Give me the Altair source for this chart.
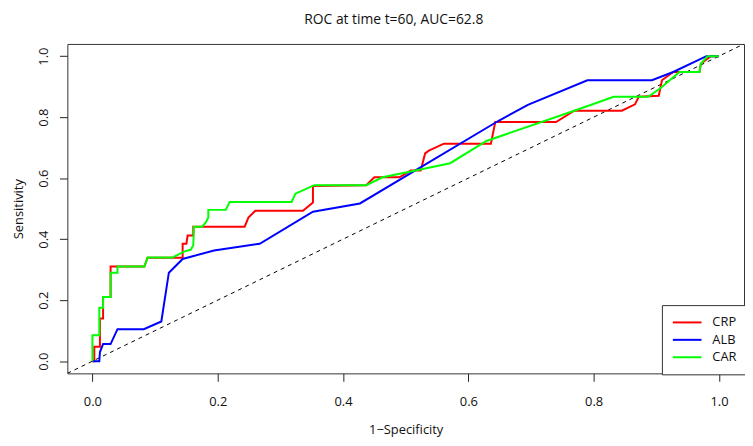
import altair as alt
import pandas as pd

crp_x = [0, 0.003, 0.003, 0.012, 0.012, 0.017, 0.017, 0.029, 0.029, 0.04, 0.083, 0.088,
         0.144, 0.144, 0.150, 0.152, 0.161, 0.161, 0.243, 0.249, 0.260, 0.336, 0.352, 0.352,
         0.437, 0.450, 0.490, 0.508, 0.524, 0.531, 0.537, 0.561, 0.636, 0.643, 0.740, 0.769,
         0.845, 0.866, 0.872, 0.904, 0.909, 0.927, 0.969, 0.971, 0.987, 1.0]
crp_y = [0, 0, 0.047, 0.047, 0.14, 0.14, 0.21, 0.21, 0.31, 0.31, 0.31, 0.339,
         0.339, 0.385, 0.385, 0.412, 0.412, 0.441, 0.441, 0.471, 0.493, 0.493, 0.52, 0.574,
         0.577, 0.603, 0.603, 0.625, 0.625, 0.681, 0.69, 0.713, 0.713, 0.784, 0.784, 0.821,
         0.821, 0.842, 0.867, 0.87, 0.921, 0.948, 0.948, 0.975, 1.0, 1.0]

alb_x = [0, 0.011, 0.012, 0.017, 0.029, 0.04, 0.082, 0.11, 0.122, 0.144, 0.194, 0.267,
         0.352, 0.427, 0.649, 0.695, 0.79, 0.893, 0.927, 0.98, 1.0]
alb_y = [0, 0, 0.03, 0.056, 0.056, 0.105, 0.105, 0.13, 0.29, 0.335, 0.363, 0.385,
         0.49, 0.517, 0.789, 0.84, 0.921, 0.921, 0.948, 1.0, 1.0]

car_x = [0, 0, 0.011, 0.011, 0.017, 0.017, 0.029, 0.029, 0.04, 0.04, 0.083, 0.088,
         0.128, 0.147, 0.157, 0.161, 0.162, 0.175, 0.181, 0.185, 0.185, 0.213, 0.219,
         0.318, 0.324, 0.354, 0.437, 0.463, 0.508, 0.571, 0.629, 0.769, 0.832, 0.887,
         0.906, 0.937, 0.969, 0.971, 0.982, 1.0]
car_y = [0, 0.085, 0.085, 0.175, 0.175, 0.21, 0.21, 0.29, 0.29, 0.31, 0.31, 0.34,
         0.34, 0.36, 0.365, 0.38, 0.441, 0.441, 0.455, 0.471, 0.496, 0.496, 0.522,
         0.522, 0.549, 0.577, 0.577, 0.603, 0.622, 0.649, 0.722, 0.821, 0.867, 0.867,
         0.894, 0.948, 0.948, 0.975, 1.0, 1.0]

series = ["CRP", "ALB", "CAR"]
colors = ["#FF0000", "#0000FF", "#00FF00"]
diag = [-0.04, 1.04]
ticks = [0, 0.2, 0.4, 0.6, 0.8, 1.0]

rows = []
for name, xs, ys in [("CRP", crp_x, crp_y), ("ALB", alb_x, alb_y), ("CAR", car_x, car_y)]:
    for i, (a, b) in enumerate(zip(xs, ys)):
        rows.append({"fpr": a, "tpr": b, "marker": name, "idx": i})
df = pd.DataFrame(rows)
ddf = pd.DataFrame({"fpr": diag, "tpr": diag})

FONT = "Open Sans"
xscale = alt.Scale(domain=[-0.04, 1.04], nice=False, zero=False)
yscale = alt.Scale(domain=[-0.04, 1.04], nice=False, zero=False)

xaxis = alt.Axis(values=ticks, format=".1f", title="1\u2212Specificity", grid=False,
                 domain=False, tickSize=8, tickColor="#222", labelFontSize=13,
                 labelPadding=14, titleFontSize=13, titleFontWeight="normal",
                 titlePadding=16, labelColor="#111", titleColor="#111")
yaxis = alt.Axis(values=ticks, format=".1f", title="Sensitivity", grid=False,
                 domain=False, tickSize=8, tickColor="#222", labelFontSize=13,
                 labelAngle=270, labelAlign="center", labelBaseline="bottom",
                 labelPadding=9, titleFontSize=13, titleFontWeight="normal",
                 titlePadding=12, labelColor="#111", titleColor="#111")

diag_layer = alt.Chart(ddf).mark_line(
    color="black", strokeWidth=1, strokeDash=[4, 4], clip=True
).encode(x=alt.X("fpr:Q", scale=xscale, axis=xaxis),
         y=alt.Y("tpr:Q", scale=yscale, axis=yaxis))

curves = alt.Chart(df).mark_line(strokeWidth=2, clip=True).encode(
    x=alt.X("fpr:Q", scale=xscale, axis=xaxis),
    y=alt.Y("tpr:Q", scale=yscale, axis=yaxis),
    color=alt.Color("marker:N", scale=alt.Scale(domain=series, range=colors),
                    legend=alt.Legend(title=None, orient="none", legendX=601, legendY=264,
                                      symbolType="M-1,0H3.5", symbolSize=166,
                                      symbolStrokeWidth=2, labelFontSize=13,
                                      labelOffset=26, padding=10, rowPadding=2.6,
                                      strokeColor="#333", fillColor="white",
                                      labelColor="#111")),
    detail="marker:N",
    order="idx:Q",
)

chart = alt.layer(diag_layer, curves).properties(
    width=684, height=333,
    title=alt.TitleParams("ROC at time t=60, AUC=62.8", anchor="middle", frame="group",
                          fontSize=14, fontWeight="normal", font=FONT, color="#111",
                          offset=17, dx=-12),
    autosize=alt.AutoSizeParams(type="none"),
    padding={"left": 60, "top": 34, "right": 1, "bottom": 63},
).configure(font=FONT).configure_view(stroke="#333", strokeWidth=1)

chart.save("out.html", embed_options={"renderer": "svg", "actions": False})
